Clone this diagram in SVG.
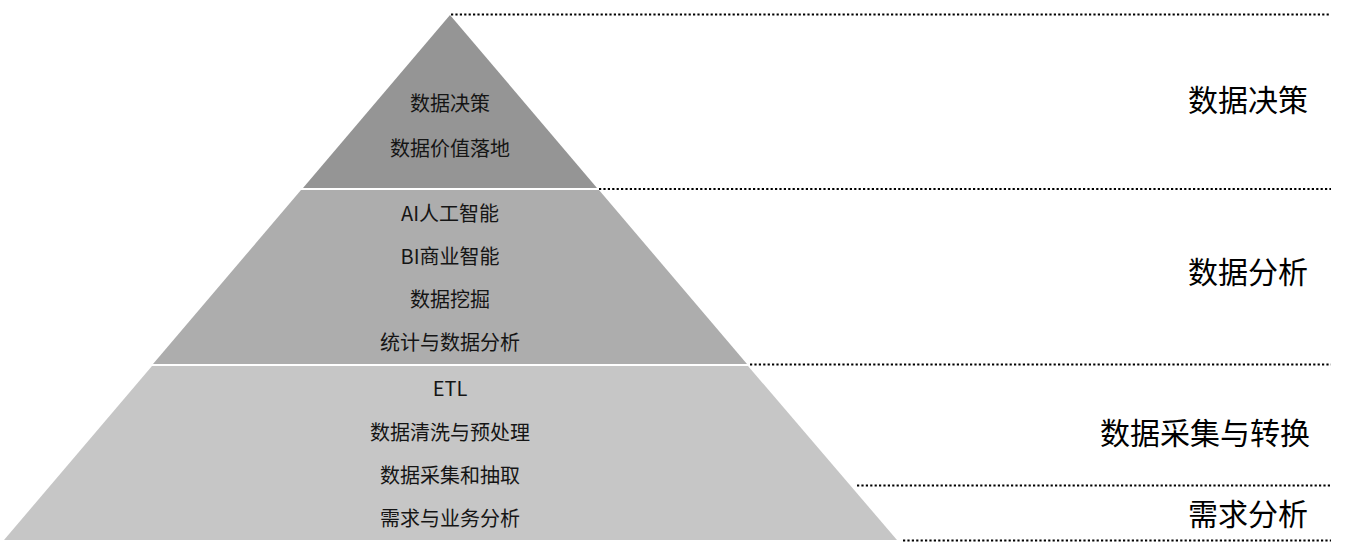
<svg xmlns="http://www.w3.org/2000/svg" width="1355" height="557" viewBox="0 0 1355 557">
<style>
.t{font-family:"Noto Sans CJK SC","Noto Sans",sans-serif;font-size:20px;fill:#151515;text-anchor:middle}
.r{font-family:"Noto Sans CJK SC","Noto Sans",sans-serif;font-size:30px;fill:#000;text-anchor:end}
.d{stroke:#000;stroke-width:2.2;stroke-dasharray:2.2 2.2;fill:none}
</style>
<rect width="1355" height="557" fill="#fff"/>
<g id="tier-top">
<polygon points="450,15 597,188 303,188" fill="#959595"/>
<text class="t" x="450" y="111">数据决策</text>
<text class="t" x="450" y="156">数据价值落地</text>
</g>
<g id="tier-middle">
<polygon points="301,190 599,190 747,364 153,364" fill="#adadad"/>
<text class="t" x="450" y="221">AI人工智能</text>
<text class="t" x="450" y="264">BI商业智能</text>
<text class="t" x="450" y="307">数据挖掘</text>
<text class="t" x="450" y="350">统计与数据分析</text>
</g>
<g id="tier-bottom">
<polygon points="152,366 748,366 897,540 4,540" fill="#c6c6c6"/>
<text class="t" x="450" y="396">ETL</text>
<text class="t" x="450" y="440">数据清洗与预处理</text>
<text class="t" x="450" y="483">数据采集和抽取</text>
<text class="t" x="450" y="526">需求与业务分析</text>
</g>
<g id="connectors">
<line class="d" x1="451" y1="14.5" x2="1331" y2="14.5"/>
<line class="d" x1="599" y1="189" x2="1331" y2="189"/>
<line class="d" x1="750" y1="364.5" x2="1331" y2="364.5"/>
<line class="d" x1="857" y1="485.5" x2="1331" y2="485.5"/>
<line class="d" x1="903" y1="540.5" x2="1331" y2="540.5"/>
</g>
<g id="labels">
<text class="r" x="1308" y="111">数据决策</text>
<text class="r" x="1308" y="283">数据分析</text>
<text class="r" x="1310" y="444">数据采集与转换</text>
<text class="r" x="1308" y="525">需求分析</text>
</g>
</svg>
